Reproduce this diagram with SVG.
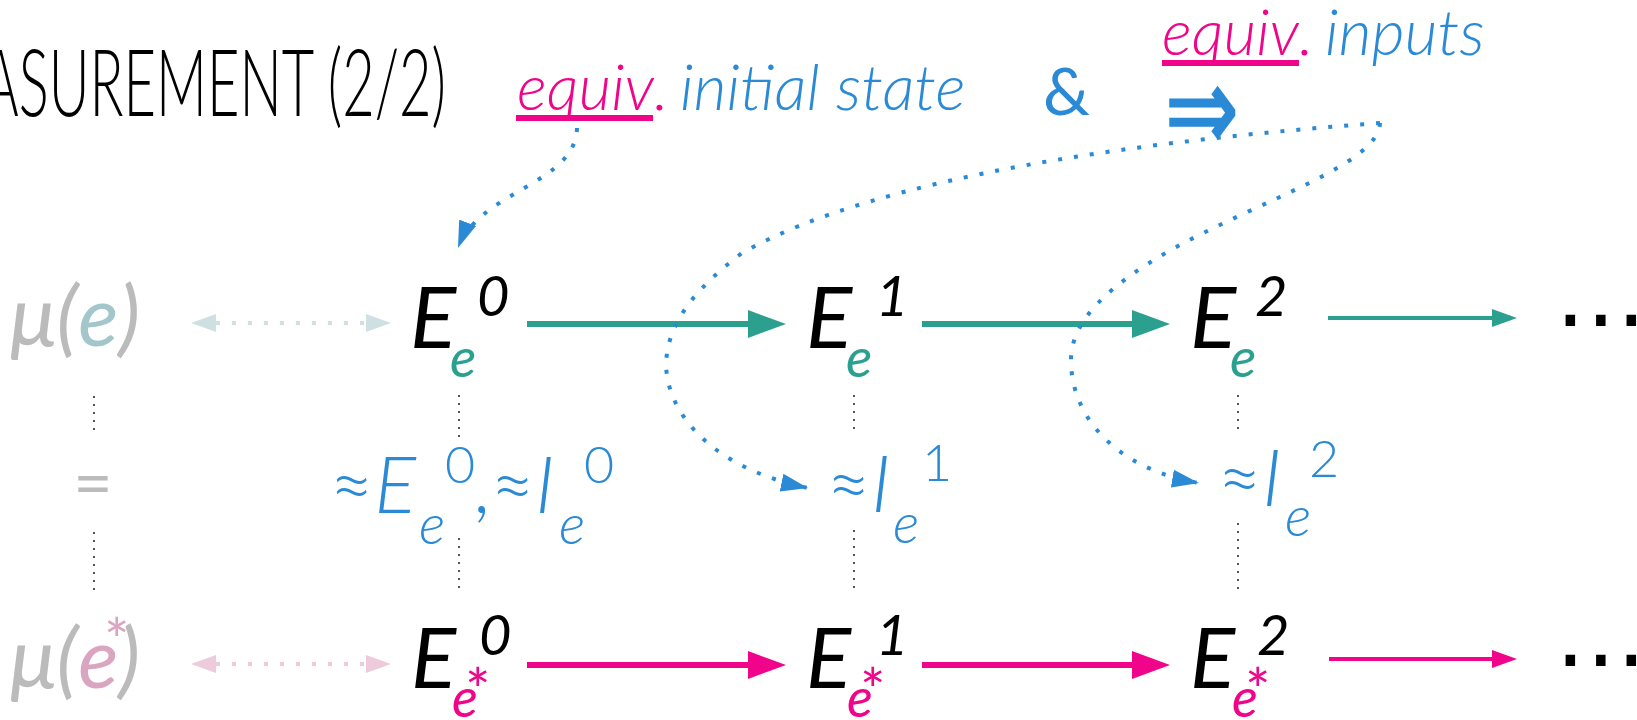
<svg xmlns="http://www.w3.org/2000/svg" width="1637" height="720" viewBox="0 0 1637 720">
<style>
text{font-family:Lato,"Open Sans","Liberation Sans",sans-serif}
.title{font-weight:300;font-size:93px;fill:#000}
.hdr{font-weight:300;font-style:italic;font-size:64px;fill:#2B8AD6}
.pk{fill:#F0058A}
.E{font-style:italic;font-size:86px;fill:#000}
.E3{font-style:italic;font-size:84px;fill:#000}
.sup{font-size:56px}
.sub{font-size:55px}
.te{fill:#2CA08F}
.lbl{font-weight:300;font-size:78px;fill:#2B8AD6}
.it{font-style:italic}
.mu{font-style:italic;font-size:84px;fill:#BBBBBB}
.ast{font-style:normal;font-size:60px}
.vd{stroke:#555;stroke-width:2;stroke-dasharray:2 6;fill:none}
.bl{stroke:#2B8AD6;stroke-width:4;stroke-dasharray:4 12;fill:none}
.ta{stroke:#2CA08F;stroke-width:6}
.tas{stroke:#2CA08F;stroke-width:4}
.pa{stroke:#F0058A;stroke-width:6}
.pas{stroke:#F0058A;stroke-width:4}
.dots{font-family:"DejaVu Sans",sans-serif;font-size:92px;letter-spacing:0;fill:#000}
</style>
<defs>
<marker id="mT" markerUnits="userSpaceOnUse" markerWidth="38" markerHeight="28" refX="0" refY="14" orient="auto"><path d="M0,0L38,14L0,28z" fill="#2CA08F"/></marker>
<marker id="mTs" markerUnits="userSpaceOnUse" markerWidth="25" markerHeight="18" refX="0" refY="9" orient="auto"><path d="M0,0L25,9L0,18z" fill="#2CA08F"/></marker>
<marker id="mP" markerUnits="userSpaceOnUse" markerWidth="38" markerHeight="28" refX="0" refY="14" orient="auto"><path d="M0,0L38,14L0,28z" fill="#F0058A"/></marker>
<marker id="mPs" markerUnits="userSpaceOnUse" markerWidth="25" markerHeight="18" refX="0" refY="9" orient="auto"><path d="M0,0L25,9L0,18z" fill="#F0058A"/></marker>
<marker id="mB" markerUnits="userSpaceOnUse" markerWidth="27" markerHeight="18" refX="27" refY="9" orient="auto"><path d="M0,0L27,9L0,18z" fill="#2B8AD6"/></marker>
<marker id="mLT" markerUnits="userSpaceOnUse" markerWidth="25" markerHeight="18" refX="0" refY="9" orient="auto-start-reverse"><path d="M0,0L25,9L0,18z" fill="#CFE0E3"/></marker>
<marker id="mLP" markerUnits="userSpaceOnUse" markerWidth="25" markerHeight="18" refX="0" refY="9" orient="auto-start-reverse"><path d="M0,0L25,9L0,18z" fill="#EDCBDA"/></marker>
</defs>

<g id="title"><text class="title" x="-18" y="116" textLength="464" lengthAdjust="spacingAndGlyphs">ASUREMENT (2/2)</text></g>

<g id="hdr-initial">
<text class="hdr pk" x="517" y="110" textLength="137" lengthAdjust="spacingAndGlyphs">equiv</text>
<text class="hdr pk" x="654" y="110">.</text>
<text class="hdr" x="680" y="110">initial state</text>
<rect x="516" y="115" width="137" height="6" fill="#F0058A"/>
</g>
<g id="hdr-and"><text x="1043" y="115" font-size="66" fill="#2B8AD6">&amp;</text></g>
<g id="hdr-implies"><text transform="translate(1165,114) scale(1,1.35)" x="0" y="27" font-family="DejaVu Sans,sans-serif" font-size="88" fill="#2B8AD6" stroke="#2B8AD6" stroke-width="1.5">⇒</text></g>
<g id="hdr-inputs">
<text class="hdr pk" x="1162" y="55" textLength="137" lengthAdjust="spacingAndGlyphs">equiv</text>
<text class="hdr pk" x="1299" y="55">.</text>
<text class="hdr" x="1325" y="55">inputs</text>
<rect x="1162" y="60" width="137" height="6" fill="#F0058A"/>
</g>

<g id="mu-e"><text class="mu" x="10" y="346">μ(<tspan fill="#A3C6CB">e</tspan>)</text></g>
<g id="eq"><text x="93" y="507" font-size="68" fill="#BBBBBB" text-anchor="middle">=</text></g>
<g id="mu-estar"><text class="mu" x="10" y="688">μ(<tspan fill="#D9A5C0">e</tspan>)<tspan class="ast" x="104" y="662" font-size="68" fill="#D9A5C0">*</tspan></text></g>

<g id="E0"><text class="E" x="410" y="348">E<tspan class="sup" x="477" y="316">0</tspan><tspan class="sub te" x="450" y="377">e</tspan></text></g>
<g id="E1"><text class="E" x="806" y="348">E<tspan class="sup" x="876" y="316">1</tspan><tspan class="sub te" x="846" y="377">e</tspan></text></g>
<g id="E2"><text class="E" x="1190" y="348">E<tspan class="sup" x="1255" y="316">2</tspan><tspan class="sub te" x="1230" y="377">e</tspan></text></g>
<g id="dots1"><text class="dots" x="1555" y="349">⋯</text></g>

<g id="I0"><text class="lbl" x="329" y="513">≈<tspan class="it">E</tspan><tspan x="445" y="483" font-size="52">0</tspan><tspan class="it" x="419" y="544" font-size="56">e</tspan><tspan x="473" y="513">,≈</tspan><tspan class="it">I</tspan><tspan x="584" y="483" font-size="52">0</tspan><tspan class="it" x="559" y="544" font-size="56">e</tspan></text></g>
<g id="I1"><text class="lbl" x="826" y="512">≈<tspan class="it">I</tspan><tspan x="922" y="481" font-size="52">1</tspan><tspan class="it" x="893" y="543" font-size="56">e</tspan></text></g>
<g id="I2"><text class="lbl" x="1217" y="506">≈<tspan class="it">I</tspan><tspan x="1309" y="477" font-size="52">2</tspan><tspan class="it" x="1285" y="536" font-size="56">e</tspan></text></g>

<g id="S0"><text class="E3" x="411" y="688">E<tspan class="sup" x="479" y="655" font-size="52">0</tspan><tspan class="pk" x="452" y="717" font-size="54">e</tspan><tspan class="pk ast" x="465" y="712">*</tspan></text></g>
<g id="S1"><text class="E3" x="806" y="688">E<tspan class="sup" x="876" y="655" font-size="52">1</tspan><tspan class="pk" x="847" y="717" font-size="54">e</tspan><tspan class="pk ast" x="860" y="712">*</tspan></text></g>
<g id="S2"><text class="E3" x="1190" y="688">E<tspan class="sup" x="1257" y="655" font-size="52">2</tspan><tspan class="pk" x="1232" y="717" font-size="54">e</tspan><tspan class="pk ast" x="1245" y="712">*</tspan></text></g>
<g id="dots3"><text class="dots" x="1555" y="689">⋯</text></g>

<g id="connectors">
<line x1="216" y1="323" x2="366" y2="323" stroke="#CFE0E3" stroke-width="4" stroke-dasharray="4 12" marker-start="url(#mLT)" marker-end="url(#mLT)"/>
<line x1="216" y1="664" x2="366" y2="664" stroke="#EDCBDA" stroke-width="4" stroke-dasharray="4 12" marker-start="url(#mLP)" marker-end="url(#mLP)"/>
<line class="ta" x1="527" y1="324" x2="748" y2="324" marker-end="url(#mT)"/>
<line class="ta" x1="922" y1="324" x2="1132" y2="324" marker-end="url(#mT)"/>
<line class="tas" x1="1328" y1="318" x2="1492" y2="318" marker-end="url(#mTs)"/>
<line class="pa" x1="527" y1="665" x2="748" y2="665" marker-end="url(#mP)"/>
<line class="pa" x1="922" y1="665" x2="1132" y2="665" marker-end="url(#mP)"/>
<line class="pas" x1="1329" y1="659" x2="1492" y2="659" marker-end="url(#mPs)"/>
<path class="vd" d="M94,396V430M94,532V590M459,395V437M459,538V590M854,395V430M854,530V590M1238,395V430M1238,523V590"/>
<path class="bl" d="M577,128C575,185 480,190 458,248" marker-end="url(#mB)"/>
<path class="bl" d="M1380,123C1150,140 880,175 742,253C700,285 667,320 666,365C668,420 720,470 808,488" marker-end="url(#mB)"/>
<path class="bl" d="M1380,123C1378,165 1260,200 1169,251C1110,285 1071,320 1071,360C1071,420 1120,470 1199,483" marker-end="url(#mB)"/>
</g>
</svg>
